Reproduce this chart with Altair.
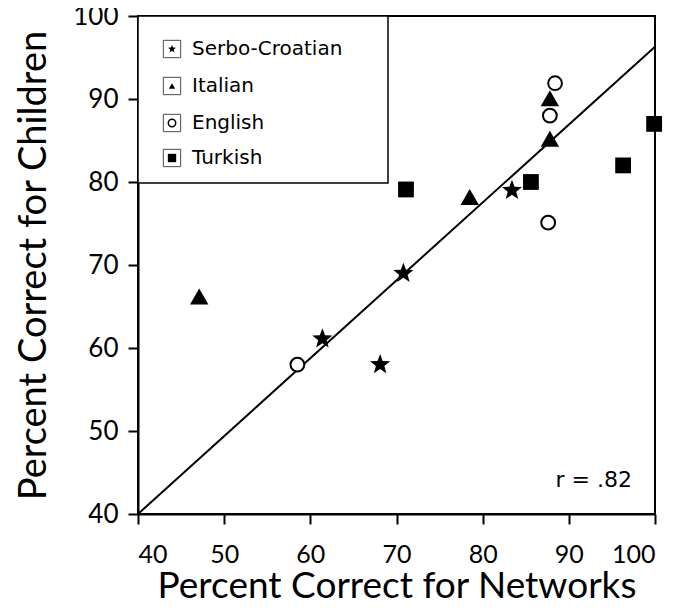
import altair as alt
import pandas as pd

# ---- data ----
languages = ["Serbo-Croatian", "Italian", "English", "Turkish"]

sc_net = [70.8, 61.4, 68.1, 83.4]
sc_child = [69.0, 61.1, 58.0, 79.0]

it_net = [47.1, 78.5, 87.8, 87.8]
it_child = [66.2, 78.2, 90.1, 85.2]

en_net = [58.5, 88.4, 87.8, 87.6]
en_child = [58.0, 91.9, 88.0, 75.1]

tr_net = [71.1, 85.6, 96.3, 99.9]
tr_child = [79.1, 80.0, 82.0, 87.0]

fit_x = [40, 100]
fit_y = [40.0, 96.3]

r_label = "r = .82"
x_ticks = [40, 50, 60, 70, 80, 90, 100]
y_ticks = [40, 50, 60, 70, 80, 90, 100]

TICK_FONT = "Lato"
LEG_FONT = "DejaVu Sans"

STAR = ("M0,-1L0.247,-0.34L0.951,-0.309L0.399,0.13L0.588,0.809L0,0.42"
        "L-0.588,0.809L-0.399,0.13L-0.951,-0.309L-0.247,-0.34Z")

xscale = alt.Scale(domain=[40, 100], nice=False, zero=False)
yscale = alt.Scale(domain=[40, 100], nice=False, zero=False)

xaxis = alt.Axis(values=x_ticks, title="Percent Correct for Networks", grid=False,
                 tickSize=10, tickWidth=2, domainWidth=2, domainColor="black", tickColor="black",
                 labelFont=TICK_FONT, labelFontSize=25, labelColor="black", labelPadding=18,
                 titleFont=TICK_FONT, titleFontSize=37, titleFontWeight="normal", titleColor="black",
                 titlePadding=1)
yaxis = alt.Axis(values=y_ticks, title="Percent Correct for Children", grid=False,
                 tickSize=10, tickWidth=2, domainWidth=2, domainColor="black", tickColor="black",
                 labelFont=TICK_FONT, labelFontSize=26, labelColor="black", labelPadding=10,
                 titleFont=TICK_FONT, titleFontSize=38, titleFontWeight="normal", titleColor="black",
                 titlePadding=19)


def df(x, y):
    return pd.DataFrame({"net": x, "child": y})


def pts(x, y, shape, filled, size):
    return alt.Chart(df(x, y)).mark_point(
        shape=shape, filled=filled, size=size, color="black",
        strokeWidth=2 if not filled else 1, opacity=1,
        fill="black" if filled else "white"
    ).encode(
        x=alt.X("net:Q", scale=xscale, axis=xaxis),
        y=alt.Y("child:Q", scale=yscale, axis=yaxis),
    )


fit = alt.Chart(df(fit_x, fit_y)).mark_line(color="black", strokeWidth=2).encode(
    x=alt.X("net:Q", scale=xscale, axis=xaxis),
    y=alt.Y("child:Q", scale=yscale, axis=yaxis),
)

layers = [fit,
          pts(sc_net, sc_child, STAR, True, 450),
          pts(it_net, it_child, "triangle-up", True, 340),
          pts(en_net, en_child, "circle", False, 190),
          pts(tr_net, tr_child, "square", True, 250)]

# ---- legend box ----
one = alt.Data(values=[{"k": 0}])
legend_box = alt.Chart(one).mark_rect(fill="white", stroke="black", strokeWidth=1.5).encode(
    x=alt.value(0), x2=alt.value(250), y=alt.value(0), y2=alt.value(167)
)
layers.append(legend_box)

leg_shapes = [(STAR, True, 70), ("triangle-up", True, 40), ("circle", False, 55), ("square", True, 70)]
leg_rows = [33, 70, 107, 142]
for i, lang in enumerate(languages):
    yy = leg_rows[i]
    d = alt.Data(values=[{"label": lang}])
    layers.append(alt.Chart(d).mark_square(filled=False, color="black", size=300, strokeWidth=1).encode(
        x=alt.value(34), y=alt.value(yy)))
    shp, filled, sz = leg_shapes[i]
    layers.append(alt.Chart(d).mark_point(shape=shp, filled=filled, size=sz, color="black",
                                          strokeWidth=1.5, opacity=1).encode(
        x=alt.value(34), y=alt.value(yy)))
    layers.append(alt.Chart(d).mark_text(font=LEG_FONT, fontSize=20, align="left", baseline="middle",
                                         color="black").encode(
        x=alt.value(54), y=alt.value(yy), text="label:N"))

rtext = alt.Chart(alt.Data(values=[{"t": r_label}])).mark_text(
    font=LEG_FONT, fontSize=22, align="right", baseline="middle", color="black"
).encode(x=alt.value(494), y=alt.value(464), text="t:N")
layers.append(rtext)

chart = alt.layer(*layers).properties(
    width=517, height=498,
    background="white",
    autosize=alt.AutoSizeParams(type="none"),
    padding={"left": 130, "top": 8, "right": 15, "bottom": 89},
).configure_view(stroke="black", strokeWidth=2)

chart.save("out.html", embed_options={"renderer": "svg", "actions": False})
